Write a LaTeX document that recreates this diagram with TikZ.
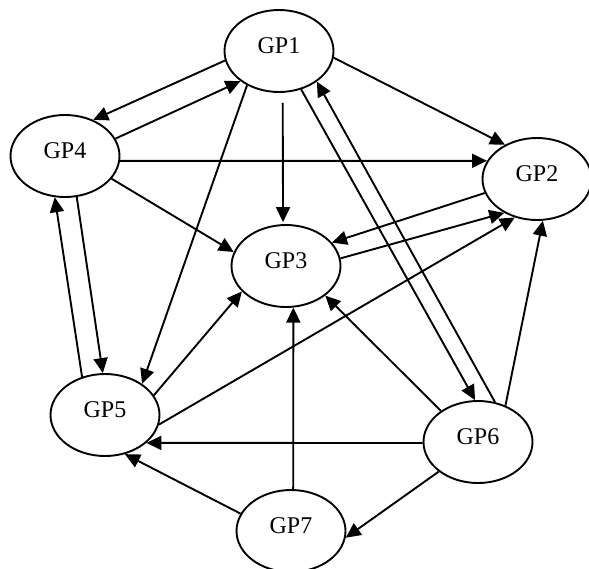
\documentclass[tikz,border=0pt]{standalone}
\usepackage{fontspec}
\setmainfont{Liberation Serif}
\usetikzlibrary{shapes.geometric,arrows.meta}
\begin{document}
\begin{tikzpicture}[x=0.5pt, y=-0.5pt, line width=0.95pt,
        gp/.style={draw, ellipse, minimum width=54.5pt, minimum height=41pt, inner sep=0pt,
            font=\fontsize{12}{14}\selectfont, text height=8pt, text depth=6pt},
        >={Triangle[length=7.5pt, width=7pt]}]
            \useasboundingbox (0,0) rectangle (589,568);
            \node [gp] (GP1) at (279,51) {GP1};
            \node [gp] (GP4) at (65,156) {GP4};
            \node [gp] (GP2) at (537,179) {GP2};
            \node [gp] (GP3) at (286,266) {GP3};
            \node [gp] (GP5) at (105,415) {GP5};
            \node [gp] (GP6) at (478,442) {GP6};
            \node [gp] (GP7) at (291,531) {GP7};
            \draw [->] (GP1.190) -- (GP4.52);
            \draw [->] (GP4.19) -- (GP1.218);
            \draw [->] (GP1.353) -- (GP2.133);
            \draw [->, shorten <=5pt, shorten >=1pt] (GP1.275) -- (GP3.94);
            \draw [->] (GP1.227) -- (GP5.40);
            \draw [->] (GP1.300) -- (GP6.94);
            \draw [->] (GP6.67) -- (GP1.321);
            \draw [->] (GP4.355) -- (GP2.160);
            \draw [->] (GP4.334) -- (GP3.165);
            \draw [->] (GP4.286) -- (GP5.93);
            \draw [->] (GP5.121) -- (GP4.256);
            \draw [->] (GP2.195) -- (GP3.27);
            \draw [->] (GP3.8) -- (GP2.226);
            \draw [->] (GP5.350) -- (GP2.240);
            \draw [->] (GP5.22) -- (GP3.210);
            \draw [->] (GP6.181) -- (GP5.326);
            \draw [->] (GP7.161) -- (GP5.297);
            \draw [->] (GP7.87) -- (GP3.280);
            \draw [->] (GP6.140) -- (GP3.323);
            \draw [->] (GP6.53) -- (GP2.278);
            \draw [->] (GP6.217) -- (GP7.353);
        \end{tikzpicture}
\end{document}
